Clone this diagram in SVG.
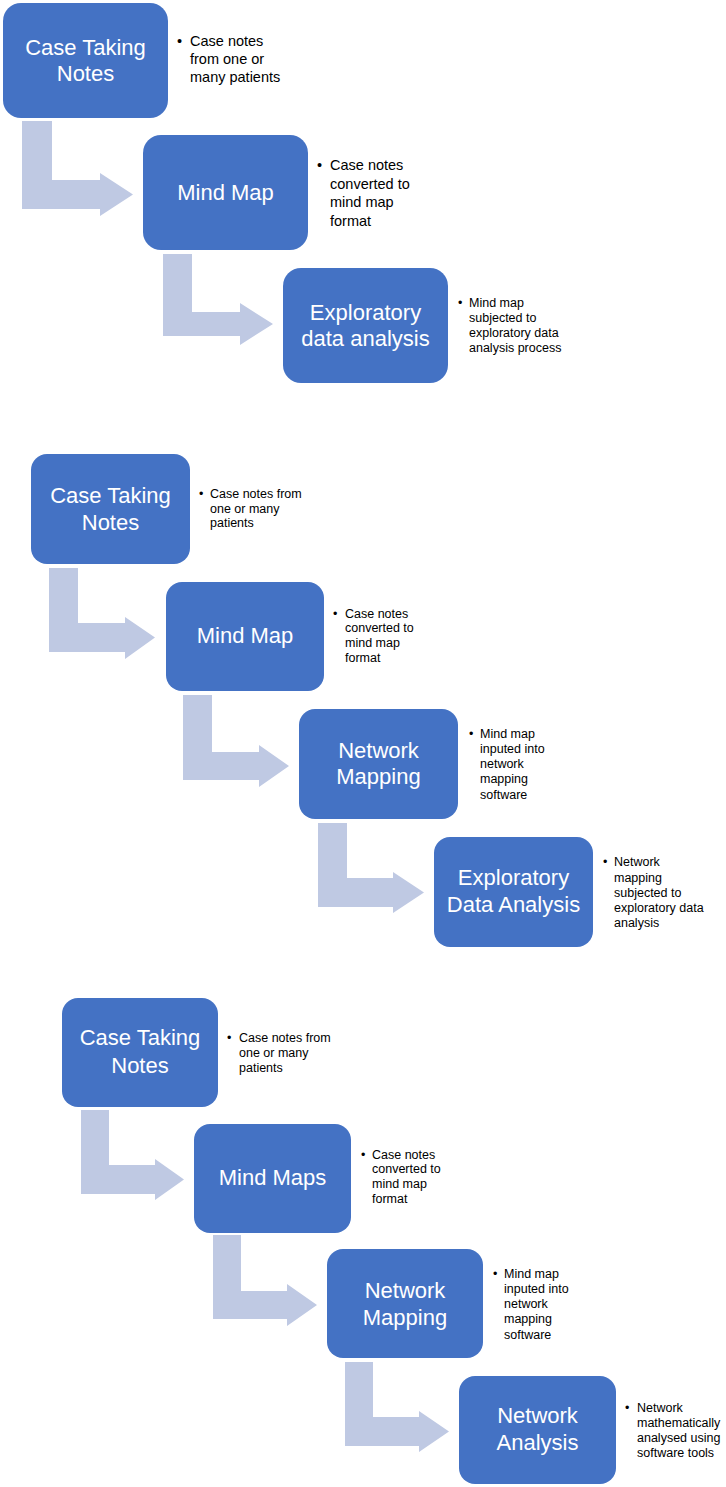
<svg xmlns="http://www.w3.org/2000/svg" width="726" height="1487" viewBox="0 0 726 1487">
<style>
.box{fill:#4472C4;}
.arrow{fill:#BFC9E3;}
.lbl{font-family:"Liberation Sans",Arial,sans-serif;font-size:22px;fill:#FFFFFF;text-anchor:middle;}
.b1{font-family:"Liberation Sans",Arial,sans-serif;font-size:14.5px;fill:#000000;}
.b2{font-family:"Liberation Sans",Arial,sans-serif;font-size:12.5px;fill:#000000;}
</style>
<rect x="0" y="0" width="726" height="1487" fill="#FFFFFF"/>
<g id="connectors">
<path class="arrow" d="M22,121 H52 V180 H100 V173 L133,194.5 L100,216 V209 H22 Z"/>
<path class="arrow" d="M163,254 H192 V312 H240 V303 L273,324 L240,345 V336 H163 Z"/>
<path class="arrow" d="M49,568 H78 V623 H125 V617 L155,637.5 L125,659 V652 H49 Z"/>
<path class="arrow" d="M183,695 H212 V752 H259 V745 L289,766 L259,787 V780 H183 Z"/>
<path class="arrow" d="M318,823 H347 V878 H393 V872 L424,892.5 L393,913 V907 H318 Z"/>
<path class="arrow" d="M81,1110 H109 V1165 H155 V1159 L184,1179.5 L155,1200 V1194 H81 Z"/>
<path class="arrow" d="M213,1235 H241 V1291 H287 V1284 L317,1305 L287,1326 V1319 H213 Z"/>
<path class="arrow" d="M345,1362 H373 V1417 H419 V1411 L449,1431.5 L419,1452 V1446 H345 Z"/>
</g>
<g id="s1-case">
<rect class="box" x="3" y="3" width="165" height="115" rx="18"/>
<text class="lbl" x="85.5" y="55">Case Taking</text>
<text class="lbl" x="85.5" y="81">Notes</text>
<text class="b1" x="177" y="46">•</text>
<text class="b1" x="190" y="46">Case notes</text>
<text class="b1" x="190" y="64">from one or</text>
<text class="b1" x="190" y="82">many patients</text>
</g>
<g id="s1-mindmap">
<rect class="box" x="143" y="135" width="165" height="115" rx="18"/>
<text class="lbl" x="225.5" y="200">Mind Map</text>
<text class="b1" x="317" y="170">•</text>
<text class="b1" x="330" y="170">Case notes</text>
<text class="b1" x="330" y="188.5">converted to</text>
<text class="b1" x="330" y="207">mind map</text>
<text class="b1" x="330" y="225.5">format</text>
</g>
<g id="s1-eda">
<rect class="box" x="283" y="268" width="165" height="115" rx="18"/>
<text class="lbl" x="365.5" y="320">Exploratory</text>
<text class="lbl" x="365.5" y="346">data analysis</text>
<text class="b2" x="458" y="307">•</text>
<text class="b2" x="469" y="307">Mind map</text>
<text class="b2" x="469" y="322">subjected to</text>
<text class="b2" x="469" y="337">exploratory data</text>
<text class="b2" x="469" y="352">analysis process</text>
</g>
<g id="s2-case">
<rect class="box" x="31" y="454" width="159" height="110" rx="16"/>
<text class="lbl" x="110.5" y="503">Case Taking</text>
<text class="lbl" x="110.5" y="530">Notes</text>
<text class="b2" x="199" y="498">•</text>
<text class="b2" x="210" y="498">Case notes from</text>
<text class="b2" x="210" y="513">one or many</text>
<text class="b2" x="210" y="527">patients</text>
</g>
<g id="s2-mindmap">
<rect class="box" x="166" y="582" width="158" height="109" rx="16"/>
<text class="lbl" x="245" y="643">Mind Map</text>
<text class="b2" x="333" y="618">•</text>
<text class="b2" x="345" y="618">Case notes</text>
<text class="b2" x="345" y="632">converted to</text>
<text class="b2" x="345" y="647">mind map</text>
<text class="b2" x="345" y="662">format</text>
</g>
<g id="s2-network">
<rect class="box" x="299" y="709" width="159" height="110" rx="16"/>
<text class="lbl" x="378.5" y="758">Network</text>
<text class="lbl" x="378.5" y="784">Mapping</text>
<text class="b2" x="469" y="738">•</text>
<text class="b2" x="480" y="738">Mind map</text>
<text class="b2" x="480" y="753">inputed into</text>
<text class="b2" x="480" y="768">network</text>
<text class="b2" x="480" y="783">mapping</text>
<text class="b2" x="480" y="799">software</text>
</g>
<g id="s2-eda">
<rect class="box" x="434" y="837" width="159" height="110" rx="16"/>
<text class="lbl" x="513.5" y="885">Exploratory</text>
<text class="lbl" x="513.5" y="912">Data Analysis</text>
<text class="b2" x="603" y="866">•</text>
<text class="b2" x="614" y="866">Network</text>
<text class="b2" x="614" y="882">mapping</text>
<text class="b2" x="614" y="897">subjected to</text>
<text class="b2" x="614" y="912">exploratory data</text>
<text class="b2" x="614" y="927">analysis</text>
</g>
<g id="s3-case">
<rect class="box" x="62" y="998" width="156" height="109" rx="16"/>
<text class="lbl" x="140" y="1045">Case Taking</text>
<text class="lbl" x="140" y="1073">Notes</text>
<text class="b2" x="227" y="1042">•</text>
<text class="b2" x="239" y="1042">Case notes from</text>
<text class="b2" x="239" y="1057">one or many</text>
<text class="b2" x="239" y="1072">patients</text>
</g>
<g id="s3-mindmaps">
<rect class="box" x="194" y="1124" width="157" height="109" rx="16"/>
<text class="lbl" x="272.5" y="1185">Mind Maps</text>
<text class="b2" x="361" y="1159">•</text>
<text class="b2" x="372" y="1159">Case notes</text>
<text class="b2" x="372" y="1173">converted to</text>
<text class="b2" x="372" y="1188">mind map</text>
<text class="b2" x="372" y="1203">format</text>
</g>
<g id="s3-network">
<rect class="box" x="327" y="1249" width="156" height="109" rx="16"/>
<text class="lbl" x="405" y="1298">Network</text>
<text class="lbl" x="405" y="1325">Mapping</text>
<text class="b2" x="493" y="1278">•</text>
<text class="b2" x="504" y="1278">Mind map</text>
<text class="b2" x="504" y="1293">inputed into</text>
<text class="b2" x="504" y="1308">network</text>
<text class="b2" x="504" y="1323">mapping</text>
<text class="b2" x="504" y="1339">software</text>
</g>
<g id="s3-analysis">
<rect class="box" x="459" y="1376" width="157" height="108" rx="16"/>
<text class="lbl" x="537.5" y="1423">Network</text>
<text class="lbl" x="537.5" y="1450">Analysis</text>
<text class="b2" x="625" y="1412">•</text>
<text class="b2" x="637" y="1412">Network</text>
<text class="b2" x="637" y="1427">mathematically</text>
<text class="b2" x="637" y="1442">analysed using</text>
<text class="b2" x="637" y="1457">software tools</text>
</g>
</svg>
